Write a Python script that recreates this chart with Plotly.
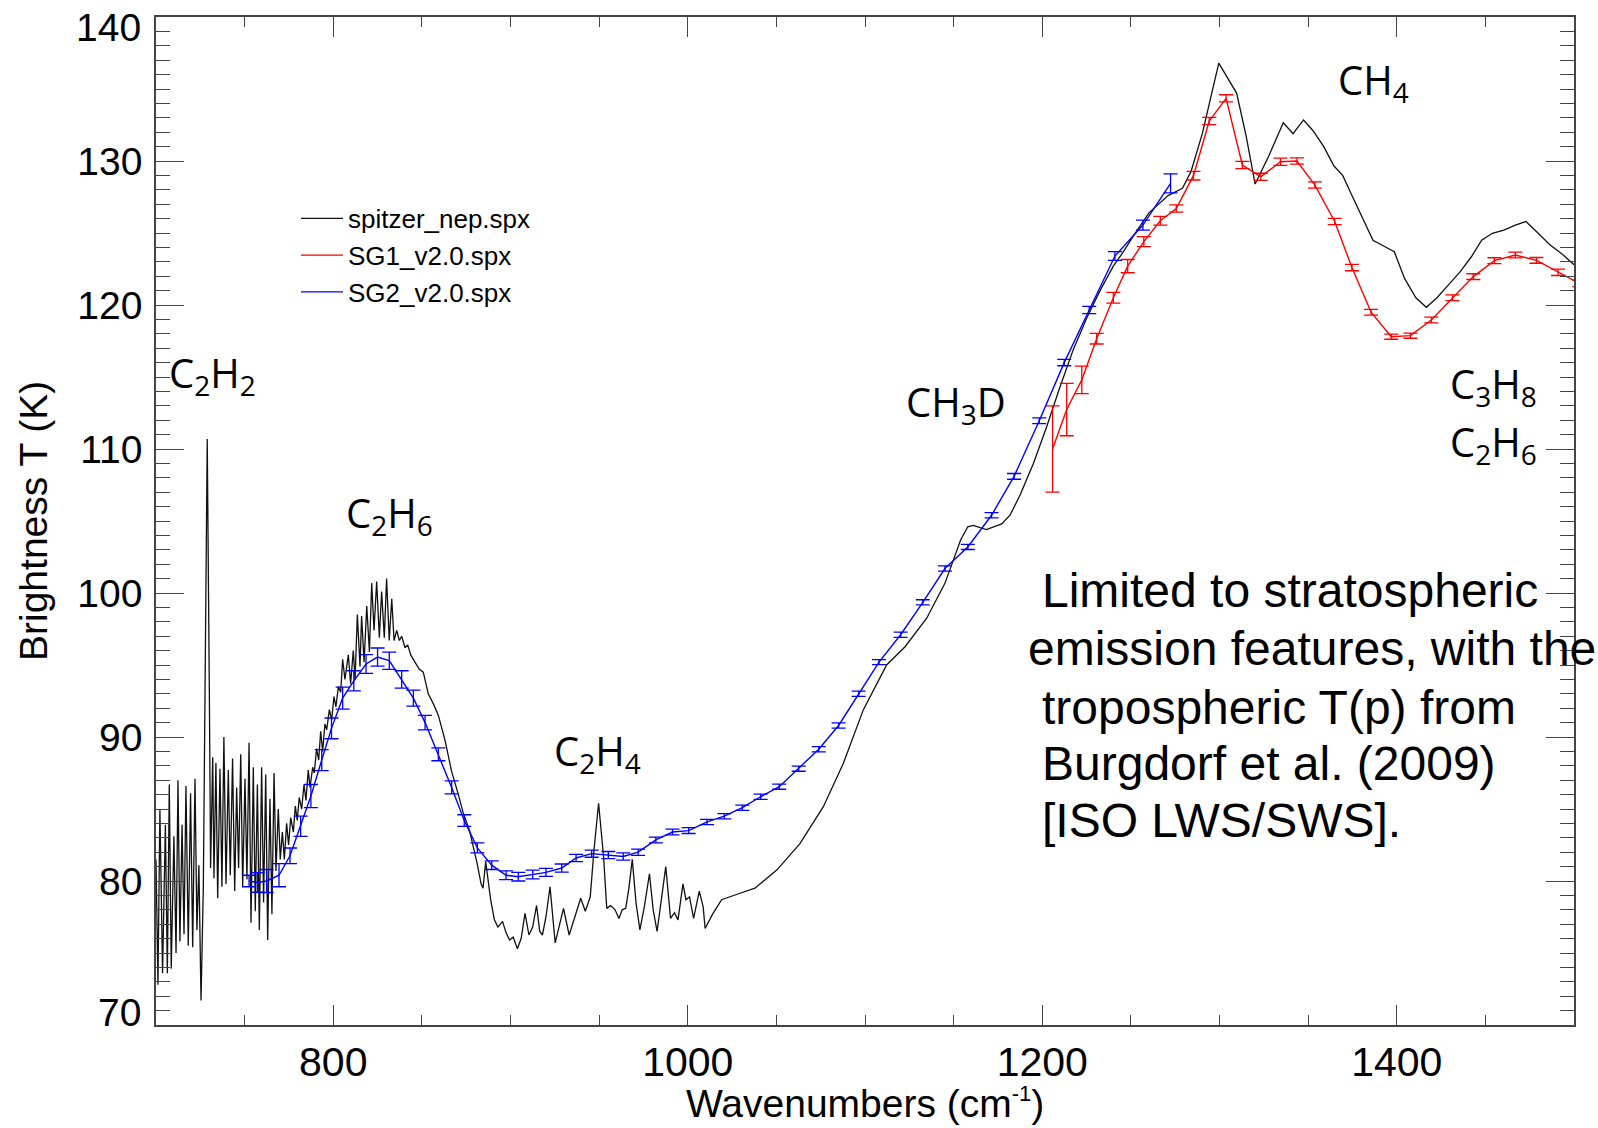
import plotly.graph_objects as go

# ---------------- data ----------------
spitzer_w = [700.0, 701.1, 702.2, 703.7, 705.3, 706.4, 707.5, 708.6, 710.1, 711.3, 712.4, 713.5, 714.7, 715.8,
             716.9, 718.2, 719.5, 720.7, 722.0, 723.1, 724.2, 725.4, 726.7, 727.8, 728.9, 730.1, 730.8, 732.0,
             732.7, 733.8, 734.8, 736.1, 737.2, 738.3, 739.5, 740.8, 741.9, 743.2, 744.4, 745.5, 746.6, 747.8,
             748.9, 750.2, 751.3, 752.5, 753.6, 754.9, 756.0, 757.2, 758.3, 759.6, 760.7, 761.9, 763.0, 764.3,
             765.4, 766.6, 767.7, 769.0, 770.1, 771.3, 772.4, 773.7, 774.8, 776.0, 777.5, 778.6, 779.7, 780.8,
             782.2, 783.5, 784.6, 785.9, 786.9, 788.4, 789.3, 790.6, 791.8, 792.9, 794.0, 795.3, 796.3, 797.8,
             799.1, 800.4, 801.5, 802.9, 804.2, 805.3, 806.6, 808.5, 809.8, 811.3, 812.3, 813.6, 815.1, 816.0,
             817.4, 818.9, 820.4, 821.7, 823.0, 824.5, 826.0, 827.3, 828.8, 830.1, 831.6, 833.0, 834.3, 835.8,
             837.3, 838.6, 840.5, 842.0, 843.7, 846.1, 848.6, 850.8, 853.6, 856.5, 859.3, 863.0, 866.8, 870.6,
             873.4, 876.9, 879.0, 881.2, 883.4, 884.5, 886.0, 888.8, 890.9, 892.9, 895.5, 897.5, 899.5, 901.5,
             903.9, 906.0, 908.2, 910.4, 912.5, 914.7, 916.5, 918.0, 920.0, 922.3, 925.2, 927.5, 929.9, 933.1,
             936.5, 939.6, 942.2, 945.0, 947.1, 949.7, 952.5, 954.3, 956.5, 959.0, 961.2, 963.0, 965.0, 966.8,
             968.7, 970.8, 973.0, 975.5, 978.4, 980.5, 982.7, 985.0, 987.6, 990.3, 992.5, 994.5, 997.3, 999.0,
             1001.0, 1003.3, 1006.5, 1008.7, 1009.8, 1014.0, 1019.1, 1029.5, 1037.9, 1050.2, 1063.3, 1076.5,
             1087.8, 1099.1, 1112.2, 1122.6, 1134.8, 1145.1, 1151.7, 1154.0, 1158.0, 1161.0, 1168.5, 1173.0,
             1177.1, 1181.8, 1187.5, 1195.0, 1202.5, 1210.0, 1217.5, 1225.1, 1232.6, 1240.1, 1245.8, 1252.0,
             1260.2, 1271.0, 1279.1, 1283.9, 1290.3, 1299.6, 1309.7, 1315.1, 1320.1, 1328.0, 1336.0, 1341.5,
             1347.4, 1352.8, 1358.8, 1364.6, 1369.5, 1374.2, 1380.7, 1386.6, 1392.6, 1398.6, 1404.4, 1410.8,
             1416.7, 1422.7, 1429.2, 1435.7, 1442.1, 1447.9, 1453.9, 1460.4, 1466.9, 1472.9, 1479.8, 1486.2,
             1492.7, 1500.0]
spitzer_T = [81.5, 72.8, 85.0, 73.6, 83.9, 73.6, 86.7, 73.9, 83.1, 75.0, 87.0, 75.8, 83.9, 76.3,
             86.6, 75.5, 86.1, 75.4, 87.1, 76.6, 81.1, 71.7, 79.6, 98.5, 110.7, 93.1, 80.9, 88.6,
             80.2, 88.2, 78.8, 87.8, 79.6, 90.0, 79.8, 87.7, 80.4, 88.5, 79.3, 86.5, 80.9, 88.8,
             79.6, 87.1, 80.1, 89.6, 77.1, 87.9, 77.9, 86.7, 76.6, 87.9, 78.5, 87.4, 75.9, 85.7,
             77.7, 87.5, 80.7, 85.0, 81.5, 83.4, 81.5, 84.0, 82.5, 84.4, 83.4, 85.2, 84.2, 85.8,
             85.0, 86.7, 85.6, 87.7, 86.5, 87.9, 87.5, 89.2, 88.4, 90.4, 89.0, 90.9, 90.5, 91.9,
             91.2, 92.8, 92.1, 93.5, 93.1, 95.4, 94.0, 95.7, 93.7, 96.0, 94.0, 98.5, 94.9, 98.4,
             95.2, 99.1, 95.9, 100.7, 97.4, 100.8, 96.9, 100.1, 96.9, 101.0, 96.7, 99.6, 96.7, 97.4,
             96.7, 97.0, 96.2, 96.4, 95.7, 95.2, 94.7, 94.5, 93.0, 92.3, 91.5, 89.8, 87.6, 86.0,
             84.7, 83.5, 82.4, 81.2, 79.8, 79.5, 81.35, 78.7, 77.3, 76.8, 77.2, 76.4, 75.9, 76.1,
             75.3, 76.0, 77.75, 76.25, 76.8, 78.3, 76.5, 76.25, 77.5, 79.6, 75.7, 76.8, 78.1, 76.25,
             77.5, 78.8, 77.9, 78.9, 82.15, 85.4, 81.7, 78.1, 78.3, 78.0, 77.4, 78.0, 78.1, 79.5,
             81.5, 78.5, 76.6, 78.2, 80.5, 78.0, 76.5, 78.5, 81.0, 77.4, 77.8, 77.3, 79.8, 78.7,
             78.9, 77.4, 79.3, 78.2, 76.7, 77.7, 78.7, 79.15, 79.5, 80.76, 82.6, 85.16,
             88.17, 91.9, 95.0, 96.27, 98.25, 100.67, 103.0, 103.7, 104.6, 104.7, 104.4, 104.6,
             104.8, 105.4, 106.8, 109.0, 111.55, 114.3, 116.9, 119.1, 121.0, 122.7, 123.7, 124.9,
             126.4, 127.6, 128.1, 129.26, 131.9, 136.8, 134.7, 131.7, 128.4, 130.4, 132.66, 131.9,
             132.85, 132.1, 131.0, 129.65, 129.0, 127.75, 126.0, 124.5, 124.1, 123.7, 121.85, 120.5,
             119.84, 120.5, 121.4, 122.3, 123.35, 124.5, 124.98, 125.2, 125.55, 125.8, 124.98, 124.2,
             123.6, 122.8]

sg1_w = [1205.8, 1213.8, 1222.3, 1230.7, 1240.1, 1248.2, 1257.3, 1266.6, 1275.6, 1285.3, 1294.2, 1303.7,
         1312.9, 1323.3, 1334.4, 1343.7, 1353.8, 1365.0, 1374.7, 1385.5, 1396.9, 1407.7, 1419.5, 1431.4,
         1443.2, 1455.1, 1466.9, 1478.8, 1491.0, 1503.0]
sg1_T = [110.0, 112.74, 114.8, 117.66, 120.5, 122.7, 124.4, 125.85, 126.7, 128.98, 132.78, 134.35,
         129.72, 128.9, 129.95, 130.0, 128.33, 125.8, 122.6, 119.5, 117.8, 117.87, 118.96, 120.5,
         121.97, 123.08, 123.47, 123.1, 122.27, 121.5]
sg1_err = [3.0, 1.82, 0.95, 0.37, 0.37, 0.46, 0.35, 0.3, 0.25, 0.3, 0.25, 0.25,
           0.25, 0.25, 0.25, 0.22, 0.22, 0.22, 0.22, 0.2, 0.18, 0.18, 0.2, 0.2,
           0.2, 0.2, 0.2, 0.2, 0.22, 0.22]

sg2_w = [752.5, 757.2, 762.4, 769.4, 775.6, 781.6, 787.4, 793.5, 799.0, 805.3, 811.6, 818.5, 825.0, 831.6,
         838.6, 845.2, 851.8, 859.3, 866.8, 873.9, 881.3, 889.4, 897.5, 904.4, 912.5, 920.0, 928.9, 937.0,
         945.8, 955.2, 963.6, 972.0, 982.0, 991.4, 1000.5, 1010.9, 1020.6, 1030.8, 1041.1, 1051.6, 1062.6,
         1073.9, 1085.1, 1096.4, 1107.9, 1120.1, 1132.6, 1145.1, 1158.0, 1171.4, 1184.1, 1198.3, 1212.4,
         1226.5, 1241.0, 1256.8, 1272.4]
sg2_T = [80.0, 79.9, 80.0, 80.4, 81.75, 83.8, 85.9, 88.4, 90.6, 92.7, 93.9, 95.07, 95.55, 95.3,
         94.0, 92.7, 91.0, 88.8, 86.5, 84.2, 82.3, 81.1, 80.4, 80.3, 80.45, 80.6, 80.9, 81.6,
         81.9, 81.8, 81.7, 82.0, 82.85, 83.4, 83.5, 84.1, 84.5, 85.09, 85.85, 86.55, 87.8,
         89.15, 90.8, 93.0, 95.2, 97.1, 99.35, 101.7, 103.2, 105.4, 108.1, 111.96, 116.0,
         119.65, 123.4, 125.55, 128.45]
sg2_err = [0.4, 0.68, 0.8, 0.8, 0.54, 0.7, 0.8, 0.73, 0.72, 0.77, 0.7, 0.65, 0.63, 0.6,
           0.6, 0.55, 0.5, 0.45, 0.45, 0.4, 0.35, 0.3, 0.3, 0.3, 0.3, 0.28, 0.28, 0.25,
           0.25, 0.25, 0.25, 0.22, 0.2, 0.2, 0.2, 0.18, 0.18, 0.18, 0.18, 0.18, 0.18,
           0.18, 0.18, 0.18, 0.18, 0.18, 0.18, 0.18, 0.18, 0.18, 0.2, 0.2, 0.22,
           0.25, 0.3, 0.35, 0.66]

series_names = ["spitzer_nep.spx", "SG1_v2.0.spx", "SG2_v2.0.spx"]

y_tickvals = [70, 80, 90, 100, 110, 120, 130, 140]
y_ticktext = ["", "80", "90", "100", "110", "120", "130", ""]
y_end_labels = ["70", "140"]
y_end_pos = [70.9, 139.3]

species_labels = ["C<sub>2</sub>H<sub>2</sub>", "C<sub>2</sub>H<sub>6</sub>", "C<sub>2</sub>H<sub>4</sub>",
                  "CH<sub>3</sub>D", "CH<sub>4</sub>", "C<sub>3</sub>H<sub>8</sub>", "C<sub>2</sub>H<sub>6</sub>"]
species_x = [731.6, 831.5, 948.8, 1151.3, 1386.6, 1454.3, 1454.3]
species_y = [115.15, 105.42, 88.95, 113.15, 135.55, 114.4, 110.35]

note_lines = ["Limited to stratospheric", "emission features, with the", "tropospheric T(p) from",
              "Burgdorf et al. (2009)", "[ISO LWS/SWS]."]
note_x = [1198.5, 1191.0, 1198.5, 1198.5, 1198.5]
note_y = [100.14, 96.18, 92.08, 88.13, 84.17]

# ---------------- figure ----------------
SANS = "Liberation Sans, Arial, Helvetica, sans-serif"
fig = go.Figure()

fig.add_trace(go.Scatter(x=spitzer_w, y=spitzer_T, mode="lines", name=series_names[0],
                         line=dict(color="#111111", width=1.3)))
fig.add_trace(go.Scatter(x=sg1_w, y=sg1_T, mode="lines", name=series_names[1],
                         line=dict(color="#ff0000", width=1.4),
                         error_y=dict(type="data", array=sg1_err, visible=True, color="#ff0000",
                                      thickness=1.3, width=7)))
fig.add_trace(go.Scatter(x=sg2_w, y=sg2_T, mode="lines", name=series_names[2],
                         line=dict(color="#0000ff", width=1.4),
                         error_y=dict(type="data", array=sg2_err, visible=True, color="#0000ff",
                                      thickness=1.3, width=7)))

axis_common = dict(showline=True, linecolor="#444444", linewidth=1.6, mirror="allticks",
                   ticks="inside", tickcolor="#444444", tickwidth=1.4, showgrid=False, zeroline=False)

fig.update_xaxes(range=[700, 1500], tick0=0, dtick=200, ticklen=20, ticklabelstandoff=0,
                 tickfont=dict(family=SANS, size=41, color="black"),
                 minor=dict(dtick=50, ticklen=10, ticks="inside", tickcolor="#444444", tickwidth=1.3),
                 **axis_common)
fig.update_yaxes(range=[70, 140], tickmode="array", tickvals=y_tickvals, ticktext=y_ticktext,
                 ticklen=28, ticklabelstandoff=4,
                 tickfont=dict(family=SANS, size=39, color="black"),
                 minor=dict(tickmode="linear", tick0=0, dtick=1, ticklen=14, ticks="inside",
                            tickcolor="#444444", tickwidth=1.3),
                 **axis_common)

annotations = []
for txt, yv in zip(y_end_labels, y_end_pos):
    annotations.append(dict(x=0, y=yv, xref="paper", yref="y", text=txt, showarrow=False, xshift=-13,
                            font=dict(family=SANS, size=39, color="black"),
                            xanchor="right", yanchor="middle"))
for txt, xv, yv in zip(species_labels, species_x, species_y):
    annotations.append(dict(x=xv, y=yv, xref="x", yref="y", text=txt, showarrow=False,
                            font=dict(family="Open Sans, Noto Sans, sans-serif", size=40, color="black"),
                            xanchor="center", yanchor="middle"))
for txt, xv, yv in zip(note_lines, note_x, note_y):
    annotations.append(dict(x=xv, y=yv, xref="x", yref="y", text=txt, showarrow=False,
                            font=dict(family=SANS, size=48, color="black"),
                            xanchor="left", yanchor="middle"))
annotations.append(dict(x=0.5, y=-0.077, xref="paper", yref="paper",
                        text="Wavenumbers (cm<sup><span style='font-size:22px'>-1</span></sup>)",
                        showarrow=False,
                        font=dict(family=SANS, size=39, color="black"),
                        xanchor="center", yanchor="middle"))
annotations.append(dict(x=0, y=0.5, xref="paper", yref="paper", xshift=-123,
                        text="Brightness T (K)", showarrow=False, textangle=-90,
                        font=dict(family=SANS, size=39, color="black"),
                        xanchor="center", yanchor="middle"))

fig.update_layout(
    width=1598, height=1128,
    margin=dict(l=156, r=24, t=17, b=103),
    plot_bgcolor="white", paper_bgcolor="white",
    showlegend=True,
    legend=dict(x=0.0987, y=0.8235, xanchor="left", yanchor="top",
                bgcolor="rgba(0,0,0,0)", borderwidth=0, itemwidth=42,
                font=dict(family=SANS, size=26, color="black"), tracegroupgap=0),
    annotations=annotations,
)

fig.write_html("out.html")
